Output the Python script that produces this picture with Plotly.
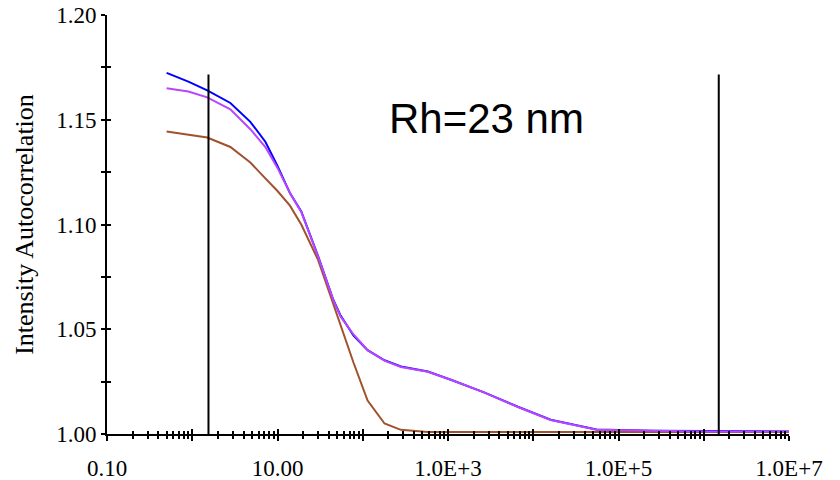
import plotly.graph_objects as go

# delay time (log axis) and the three correlation curves
tau = [0.5, 0.9, 1.5, 2.8, 4.8, 7.2, 10, 14, 19, 30, 45, 55, 78, 114, 180, 280, 580,
       1100, 2600, 6600, 16000, 55000, 250000, 1e6, 1e7]
blue = [1.1724, 1.1682, 1.1640, 1.1580, 1.1490, 1.1395, 1.1280, 1.1150, 1.1062, 1.0848, 1.0642,
        1.0565, 1.0470, 1.0400, 1.0352, 1.0322, 1.0298, 1.0258, 1.0200, 1.0130, 1.0068,
        1.0022, 1.0016, 1.0014, 1.0012]
purple = [1.1650, 1.1635, 1.1607, 1.1550, 1.1455, 1.1370, 1.1270, 1.1150, 1.1060, 1.0846, 1.0640,
          1.0560, 1.0475, 1.0400, 1.0350, 1.0320, 1.0297, 1.0258, 1.0200, 1.0129, 1.0067,
          1.0020, 1.0015, 1.0012, 1.0012]
brown = [1.1444, 1.1430, 1.1415, 1.1370, 1.1296, 1.1220, 1.1160, 1.1090, 1.1000, 1.0830, 1.0620,
         1.0510, 1.0340, 1.0160, 1.0050, 1.0020, 1.0010, 1.0010, 1.0010, 1.0010, 1.0010,
         1.0010, 1.0010, 1.0010, 1.0010]

# fit-range cursors
cursor_x = [1.55, 1.5e6]
cursor_y = [1.0, 1.1716]

x_major = [10 ** k for k in range(-1, 8)]
x_labels = ["0.10", "", "10.00", "", "1.0E+3", "", "1.0E+5", "", "1.0E+7"]
x_minor = [m * 10 ** k for k in range(-1, 7) for m in range(2, 10)]
y_major = [1.00, 1.05, 1.10, 1.15, 1.20]
y_labels = ["1.00", "1.05", "1.10", "1.15", "1.20"]

tick_font = dict(family="Liberation Serif", size=23, color="black")

fig = go.Figure()
fig.add_trace(go.Scatter(x=tau, y=blue, mode="lines", line=dict(color="#0000ff", width=2)))
fig.add_trace(go.Scatter(x=tau, y=brown, mode="lines", line=dict(color="#a0522d", width=2)))
fig.add_trace(go.Scatter(x=tau, y=purple, mode="lines", line=dict(color="#b845ff", width=2)))
for cx in cursor_x:
    fig.add_trace(go.Scatter(x=[cx, cx], y=cursor_y, mode="lines",
                             line=dict(color="black", width=2)))
# invisible trace to hold the mirrored inside ticks
fig.add_trace(go.Scatter(x=[1, 1], y=[1.0, 1.0], xaxis="x2", yaxis="y2",
                         mode="markers", marker=dict(opacity=0), hoverinfo="skip"))

fig.update_layout(
    width=840, height=480,
    margin=dict(l=107, r=51, t=15, b=46),
    paper_bgcolor="white", plot_bgcolor="white",
    showlegend=False,
    xaxis=dict(type="log", range=[-1, 7], showgrid=False, zeroline=False, automargin=False,
               showline=True, linecolor="black", linewidth=2,
               tickmode="array", tickvals=x_major, ticktext=x_labels,
               ticks="outside", ticklen=5, tickwidth=1.5, tickcolor="black",
               ticklabelstandoff=7, tickfont=tick_font, ticklabeloverflow="allow",
               minor=dict(tickmode="array", tickvals=x_minor, ticks="outside",
                          ticklen=3, tickwidth=1.5, tickcolor="black")),
    yaxis=dict(range=[1.0, 1.2], showgrid=False, zeroline=False, automargin=False,
               showline=True, linecolor="black", linewidth=2,
               tickmode="array", tickvals=y_major, ticktext=y_labels,
               ticks="outside", ticklen=4, tickwidth=1.5, tickcolor="black",
               ticklabelstandoff=0, tickfont=tick_font, ticklabeloverflow="allow",
               minor=dict(dtick=0.025, ticks="outside", ticklen=4,
                          tickwidth=1.5, tickcolor="black"),
               title=dict(text="Intensity Autocorrelation", standoff=15,
                          font=dict(family="Liberation Serif", size=26, color="black"))),
    xaxis2=dict(type="log", range=[-1, 7], overlaying="x", anchor="y", showgrid=False,
                zeroline=False, showticklabels=False, automargin=False,
                tickmode="array", tickvals=x_major,
                ticks="inside", ticklen=5, tickwidth=1.5, tickcolor="black",
                minor=dict(tickmode="array", tickvals=x_minor, ticks="inside",
                           ticklen=3, tickwidth=1.5, tickcolor="black")),
    yaxis2=dict(range=[1.0, 1.2], overlaying="y", anchor="x", showgrid=False,
                zeroline=False, showticklabels=False, automargin=False,
                tickmode="array", tickvals=y_major,
                ticks="inside", ticklen=4, tickwidth=1.5, tickcolor="black",
                minor=dict(dtick=0.025, ticks="inside", ticklen=4,
                           tickwidth=1.5, tickcolor="black")),
    annotations=[dict(text="Rh=23 nm", xref="paper", yref="paper", x=0.556, y=0.752,
                      xanchor="center", yanchor="middle", showarrow=False,
                      font=dict(family="Liberation Sans", size=42, color="black"))],
)

# drop the default 8px page margin so the figure fills the window exactly
fig.write_html("out.html", config={"displayModeBar": False},
               post_script="document.body.style.margin = '0';")
